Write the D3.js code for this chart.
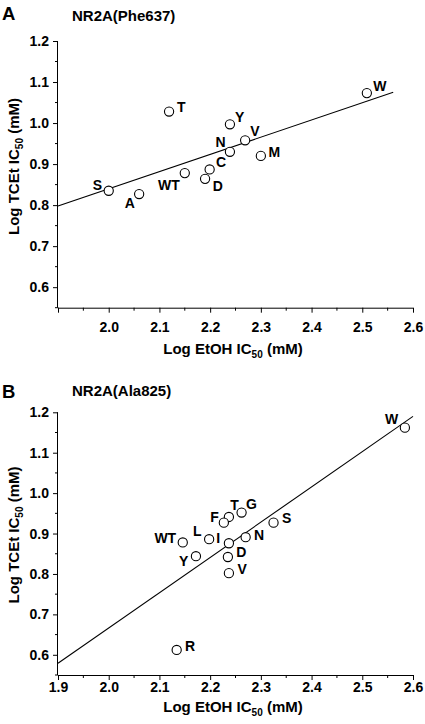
<!DOCTYPE html>
<html><head><meta charset="utf-8">
<script src="https://cdn.jsdelivr.net/npm/d3@7/dist/d3.min.js"></script>
<style>
html,body{margin:0;padding:0;background:#fff;}
svg{display:block;font-family:"Liberation Sans",Arial,sans-serif;font-weight:bold;}
</style></head>
<body><svg id="c" width="425" height="724"></svg>
<script>
// ---- data ----
const labelsA = ["W","T","Y","V","N","M","C","D","WT","S","A"];
const etohA   = [2.509,2.119,2.239,2.269,2.239,2.300,2.199,2.190,2.150,2.000,2.060];
const tcetA   = [1.073,1.028,0.997,0.958,0.930,0.920,0.887,0.864,0.878,0.835,0.827];
const fitA_x  = [1.9, 2.561];
const fitA_y  = [0.798, 1.075];

const labelsB = ["W","T","G","F","S","WT","L","I","N","Y","D","V","R"];
const etohB   = [2.584,2.237,2.262,2.227,2.325,2.146,2.198,2.237,2.270,2.172,2.235,2.237,2.134];
const tcetB   = [1.162,0.941,0.952,0.927,0.927,0.878,0.886,0.876,0.891,0.844,0.842,0.802,0.612];
const fitB_x  = [1.9, 2.6];
const fitB_y  = [0.579, 1.190];

const xTicksA = [2.0,2.1,2.2,2.3,2.4,2.5,2.6];
const xTicksB = [1.9,2.0,2.1,2.2,2.3,2.4,2.5,2.6];
const yTicks  = [0.6,0.7,0.8,0.9,1.0,1.1,1.2];

// ---- label placement (layout) ----
const placeA = {W:["start",6.5,-2.5],T:["start",8,0],Y:["start",5,-2.6],V:["start",5,-4],
  N:["end",-4.3,-4.3],M:["start",7.7,0.7],C:["start",6.3,-2],D:["start",7.7,12],
  WT:["end",-5,16.7],S:["end",-6.7,-1],A:["end",-4.3,13.7]};
const placeB = {W:["end",-6.7,-3.7],T:["start",1.3,-7.4],G:["start",4.4,-3.4],F:["end",-5,-0.6],
  S:["start",8.4,0.7],WT:["end",-6.6,1],L:["end",-7.6,-3.7],I:["end",-8.7,0],N:["start",8.3,2.6],
  Y:["end",-7.7,10.3],D:["start",8.3,0],V:["start",8.6,0.6],R:["start",8.3,0.7]};

const svg = d3.select("#c");

function panel(o){
  const g = svg.append("g");
  const x = d3.scaleLinear().domain([1.9,2.6]).range([58,413]);
  const y = d3.scaleLinear().domain([0.55,1.2]).range([o.y0,o.y1]);

  // panel letter & title
  g.append("text").attr("x",2).attr("y",o.letterY).attr("font-size",18.5).text(o.letter);
  g.append("text").attr("x",72).attr("y",o.titleY).attr("font-size",15).text(o.title);

  // y axis
  const yMinor = d3.range(0.55,1.2,0.1).map(v=>+v.toFixed(2));
  const ya = g.append("g").attr("transform","translate(58,0)");
  ya.call(d3.axisLeft(y).tickValues(yTicks).tickSize(5).tickPadding(4).tickFormat(d3.format(".1f")));
  ya.selectAll(".tick text").attr("font-size",14).attr("font-family","Liberation Sans, Arial").attr("font-weight","bold").attr("fill","#000");
  ya.select(".domain").attr("d",`M-0.5,${o.y0}V${o.y1}`).attr("stroke","#000");
  ya.selectAll(".tick line").attr("stroke","#000");
  ya.selectAll(".minor").data(yMinor).enter().append("line").attr("class","minor")
    .attr("x1",-3).attr("x2",0).attr("y1",d=>y(d)).attr("y2",d=>y(d)).attr("stroke","#000");

  // x axis
  const xMinor = d3.range(1.95,2.6,0.1).map(v=>+v.toFixed(2));
  const xa = g.append("g").attr("transform",`translate(0,${o.y0})`);
  xa.call(d3.axisBottom(x).tickValues(xTicksB).tickSize(5).tickPadding(o.xPad)
     .tickFormat(d=> o.xTicks.includes(d) ? d3.format(".1f")(d) : ""));
  xa.selectAll(".tick text").attr("font-size",14).attr("font-family","Liberation Sans, Arial").attr("font-weight","bold").attr("fill","#000");
  xa.select(".domain").attr("d",`M58,0.5H413`).attr("stroke","#000");
  xa.selectAll(".tick line").attr("stroke","#000");
  xa.selectAll(".minor").data(xMinor).enter().append("line").attr("class","minor")
    .attr("y1",0).attr("y2",3).attr("x1",d=>x(d)).attr("x2",d=>x(d)).attr("stroke","#000");

  // axis titles
  const xt = g.append("text").attr("x",233).attr("y",o.xLabY).attr("text-anchor","middle").attr("font-size",15);
  xt.append("tspan").text("Log EtOH IC");
  xt.append("tspan").attr("font-size",10).attr("dy",4).text("50");
  xt.append("tspan").attr("dy",-4).text(" (mM)");
  const yt = g.append("text").attr("transform",`translate(18.5,${o.yLabC}) rotate(-90)`).attr("text-anchor","middle").attr("font-size",15);
  yt.append("tspan").text("Log TCEt IC");
  yt.append("tspan").attr("font-size",10).attr("dy",4).text("50");
  yt.append("tspan").attr("dy",-4).text(" (mM)");

  // regression line
  g.append("line").attr("x1",x(o.fx[0])).attr("y1",y(o.fy[0])).attr("x2",x(o.fx[1])).attr("y2",y(o.fy[1]))
    .attr("stroke","#000").attr("stroke-width",1.1);

  // points
  const pts = o.labels.map((l,i)=>({l, x:o.xs[i], y:o.ys[i]}));
  g.selectAll("circle.p").data(pts).enter().append("circle").attr("class","p")
    .attr("cx",d=>x(d.x)).attr("cy",d=>y(d.y)).attr("r",4.6)
    .attr("fill","#fff").attr("stroke","#000").attr("stroke-width",1.1);
  g.selectAll("text.pl").data(pts).enter().append("text").attr("class","pl")
    .attr("x",d=>x(d.x)+o.place[d.l][1]).attr("y",d=>y(d.y)+o.place[d.l][2])
    .attr("text-anchor",d=>o.place[d.l][0]).attr("font-size",14).text(d=>d.l);
}

panel({letter:"A",title:"NR2A(Phe637)",letterY:20,titleY:21,y0:307.7,y1:41,xTicks:xTicksA,xPad:9,
  xLabY:354,yLabC:166.5,labels:labelsA,xs:etohA,ys:tcetA,fx:fitA_x,fy:fitA_y,place:placeA});
panel({letter:"B",title:"NR2A(Ala825)",letterY:398,titleY:396,y0:675,y1:412.3,xTicks:xTicksB,xPad:2,
  xLabY:711.5,yLabC:535,labels:labelsB,xs:etohB,ys:tcetB,fx:fitB_x,fy:fitB_y,place:placeB});
</script></body></html>
